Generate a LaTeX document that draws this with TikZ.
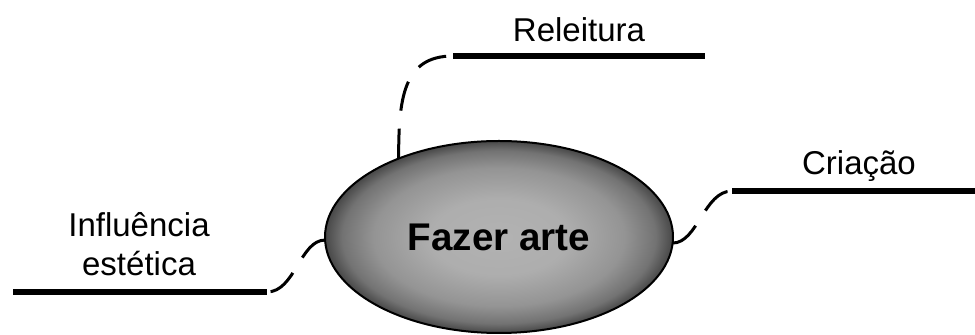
\documentclass[tikz,border=0pt]{standalone}
\usepackage{fontspec}
\setmainfont{Liberation Sans}
\usetikzlibrary{shapes.geometric}
\def\lbl{\fontsize{16.5}{19.5}\selectfont}
\def\mid{\bfseries\fontsize{19.3}{22}\selectfont}
\pgfdeclareradialshading{arte}{\pgfpoint{0bp}{0bp}}{color(0bp)=(black!30); color(10bp)=(black!32); color(18bp)=(black!42); color(22.5bp)=(black!55); color(25bp)=(black!72); color(50bp)=(black!72)}

\begin{document}
\begin{tikzpicture}[x=0.5pt,y=-0.5pt,
    bar/.style={line width=3pt},
    link/.style={line width=1.5pt,dash pattern=on 15pt off 9pt},
    lbl/.style={font=\lbl,anchor=base,inner sep=0pt}]
      \useasboundingbox (0,0) rectangle (975,335);
      % centre
      \node[ellipse,draw,line width=1pt,shading=arte,minimum width=174pt,minimum height=96pt,
            inner sep=0pt,outer sep=0pt,font=\mid] (fazer) at (499,237) {Fazer arte};
      % bars
      \coordinate (rel1) at (453,56);  \coordinate (rel2) at (705,56);
      \coordinate (cri1) at (732,191); \coordinate (cri2) at (975,191);
      \coordinate (inf1) at (13,292);  \coordinate (inf2) at (267,292);
      \draw[bar] (rel1) -- (rel2);
      \draw[bar] (cri1) -- (cri2);
      \draw[bar] (inf1) -- (inf2);
      \node[lbl] (releitura) at (579,42) {Releitura};
      \node[lbl] (criacao) at (859,175) {Criação};
      \node[lbl,align=center] (influencia) at (139,276) {Influência\\estética};
      % links
      \draw[link] (fazer.142) .. controls +(0,-60) and +(-50,0) .. (rel1);
      \draw[link] (fazer.358) .. controls +(25,0) and +(-28,0) .. (cri1);
      \draw[link] (fazer.181) .. controls +(-25,0) and +(28,0) .. (inf2);
\end{tikzpicture}
\end{document}
